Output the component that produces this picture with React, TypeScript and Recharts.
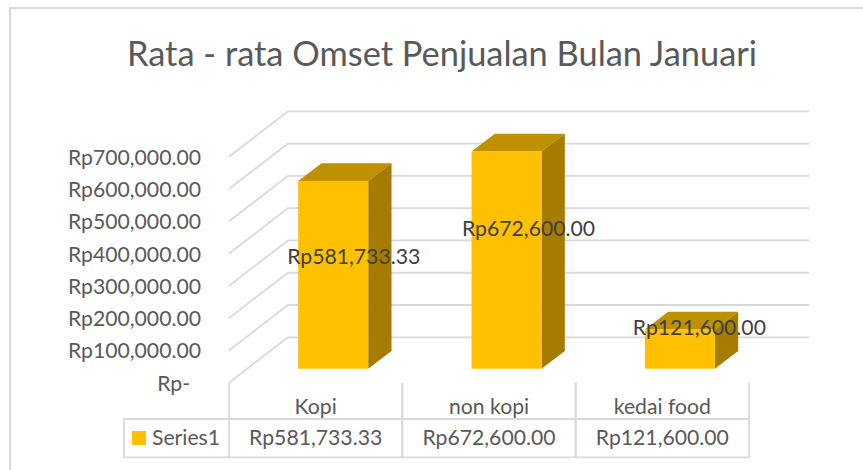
import React from "react";
import { BarChart, Bar, XAxis, YAxis, CartesianGrid, LabelList } from "recharts";

const categories = ["Kopi", "non kopi", "kedai food"];
const seriesName = "Series1";
const seriesValues = [581733.33, 672600, 121600];
const yTicks = [0, 100000, 200000, 300000, 400000, 500000, 600000, 700000];

const rows = categories.map((name, i) => ({ name, value: seriesValues[i] }));

const FONT = "Lato, Carlito, 'Open Sans', sans-serif";
const GRID = "#d9d9d9";
const TEXT = "#595959";
const SIZE = 21.2;

// 3D projection settings of the drawing
const WALL_DX = 59;
const WALL_DY = 45.4;
const BAR_SHIFT_X = 17.2;
const BAR_SHIFT_Y = 14;
const DEPTH_X = 23.3;
const DEPTH_Y = 17.7;
const BAND = 173.33;
const LABEL_NUDGE = [
  { x: 20.5, y: -19 },
  { x: 22, y: -32 },
  { x: 19.5, y: -22 },
];

const money = (v: number) =>
  "Rp" + v.toLocaleString("en-US", { minimumFractionDigits: 2, maximumFractionDigits: 2 });

const Bar3D = (p: any) => {
  const x = p.x + BAR_SHIFT_X;
  const y = p.y - BAR_SHIFT_Y;
  const w = p.width;
  const h = p.height;
  return (
    <g>
      <path
        d={`M${x},${y}L${x + DEPTH_X},${y - DEPTH_Y}L${x + w + DEPTH_X},${y - DEPTH_Y}L${x + w},${y}Z`}
        fill="#BF9000"
      />
      <path
        d={`M${x + w},${y}L${x + w + DEPTH_X},${y - DEPTH_Y}L${x + w + DEPTH_X},${y + h - DEPTH_Y}L${x + w},${y + h}Z`}
        fill="#A67C00"
      />
      <rect x={x} y={y} width={w} height={h} fill="#FFC000" />
    </g>
  );
};

const GridLine = (p: any) => {
  const { x1, y1, x2 } = p;
  return (
    <path
      key={p.key ?? y1}
      d={`M${x1},${y1}L${x1 + WALL_DX},${y1 - WALL_DY}L${x2 + WALL_DX + 1},${y1 - WALL_DY}`}
      fill="none"
      stroke={GRID}
      strokeWidth={1.8}
    />
  );
};

const YTick = (p: any) => {
  const v = p.payload.value;
  return (
    <text
      x={v === 0 ? 190 : 201}
      y={p.y}
      textAnchor="end"
      dominantBaseline="central"
      fontFamily={FONT}
      fontSize={SIZE}
      fill={TEXT}
    >
      {v === 0 ? "Rp-" : money(v)}
    </text>
  );
};

const TableCell = (p: any) => {
  const { x, y, index, payload } = p;
  const left = x - BAND / 2;
  const right = x + BAND / 2;
  const top = y + 36.3;
  const bottom = y + 74.6;
  const line = { stroke: GRID, strokeWidth: 1.8, fill: "none" };
  const label = { fontFamily: FONT, fontSize: SIZE, fill: TEXT, textAnchor: "middle" as const, dominantBaseline: "central" as const };
  return (
    <g>
      <path d={`M${left},${y}L${left},${bottom}M${right},${y}L${right},${bottom}`} {...line} />
      <path d={`M${left},${top}L${right},${top}M${left},${bottom}L${right},${bottom}`} {...line} />
      <text x={x} y={y + 23} {...label}>{payload.value}</text>
      <text x={x} y={y + 54.5} {...label}>{money(seriesValues[index])}</text>
      {index === 0 && (
        <g>
          <path d={`M${left},${top}L${left - 105},${top}L${left - 105},${bottom}L${left},${bottom}`} {...line} />
          <rect x={left - 97} y={y + 48.3} width={14} height={14} fill="#FFC000" />
          <text x={left - 77} y={y + 54} {...label} textAnchor="start">{seriesName}</text>
        </g>
      )}
    </g>
  );
};

const DataLabel = (p: any) => {
  const { x, y, width, height, index, value } = p;
  const n = LABEL_NUDGE[index];
  return (
    <text
      x={x + BAR_SHIFT_X + width / 2 + n.x}
      y={y - BAR_SHIFT_Y + height / 2 + n.y}
      textAnchor="middle"
      dominantBaseline="central"
      fontFamily={FONT}
      fontSize={SIZE}
      fill="#404040"
    >
      {money(value)}
    </text>
  );
};

export default function App() {
  return (
    <div style={{ position: "absolute", left: 0, top: 0, width: 863, height: 470, overflow: "hidden", background: "#fff" }}>
      <div
        style={{
          position: "absolute",
          left: 9,
          top: 7,
          width: 900,
          height: 500,
          borderLeft: `2px solid ${GRID}`,
          borderTop: `2px solid ${GRID}`,
        }}
      />
      <div
        style={{
          position: "absolute",
          left: 0,
          top: 31,
          width: 884,
          textAlign: "center",
          fontFamily: FONT,
          fontSize: 34.4,
          lineHeight: "44px",
          color: TEXT,
        }}
      >
        Rata - rata Omset Penjualan Bulan Januari
      </div>
      <div style={{ position: "absolute", left: 0, top: 0 }}>
        <BarChart
          width={863}
          height={470}
          data={rows}
          margin={{ top: 156.7, right: 114, bottom: 0, left: 0 }}
          barSize={70}
        >
          <CartesianGrid horizontal={GridLine as any} vertical={false} />
          <XAxis
            dataKey="name"
            height={87.3}
            axisLine={false}
            tickLine={false}
            tickSize={0}
            tickMargin={0}
            interval={0}
            tick={TableCell as any}
          />
          <YAxis
            width={229}
            domain={[0, 700000]}
            ticks={yTicks}
            interval={0}
            axisLine={false}
            tickLine={false}
            tick={YTick as any}
          />
          <Bar dataKey="value" name={seriesName} isAnimationActive={false} shape={Bar3D as any}>
            <LabelList dataKey="value" content={DataLabel as any} />
          </Bar>
        </BarChart>
      </div>
    </div>
  );
}
